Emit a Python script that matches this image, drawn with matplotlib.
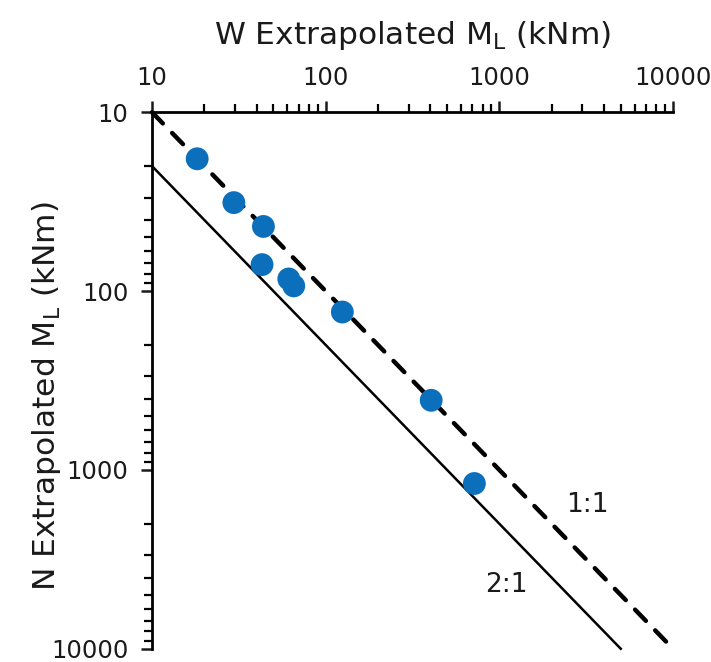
import matplotlib.pyplot as plt
import numpy as np

# moment magnitudes from the two extrapolations (kNm)
w_moment = [18.2, 29.6, 43.8, 43.0, 61.3, 65.5, 124.7, 405, 718]
n_moment = [18.2, 32.0, 43.5, 71.1, 85.5, 93.5, 130.9, 408, 1191]

# reference lines
line_11_x = [10, 10000]
line_11_y = [10, 10000]
line_21_x = [10, 5000]
line_21_y = [20, 10000]

ticks = [10, 100, 1000, 10000]
tick_labels = ["10", "100", "1000", "10000"]


def main():
    fig = plt.figure(figsize=(7.11, 6.62), dpi=100)
    ax = fig.add_axes([0.2138, 0.02, 0.7328, 0.8104])

    ax.plot(line_11_x, line_11_y, color='black', linestyle=(0, (3.5, 3)),
            linewidth=3.2, dash_capstyle='round', zorder=2)
    ax.plot(line_21_x, line_21_y, color='black', linewidth=1.8, zorder=2)
    ax.scatter(w_moment, n_moment, s=270, color='#0B6FBC', edgecolors='none',
               zorder=3)

    ax.set_xscale('log')
    ax.set_yscale('log')
    ax.set_xlim(10, 10000)
    ax.set_ylim(10000, 10)

    ax.spines['right'].set_visible(False)
    ax.spines['bottom'].set_visible(False)
    ax.spines['top'].set_linewidth(2)
    ax.spines['left'].set_linewidth(2)

    ax.xaxis.tick_top()
    ax.xaxis.set_label_position('top')
    ax.set_xticks(ticks)
    ax.set_xticklabels(tick_labels)
    ax.set_yticks(ticks)
    ax.set_yticklabels(tick_labels)
    ax.tick_params(which='major', length=8, width=1.8, labelsize=17.5,
                   colors='#1a1a1a')
    ax.tick_params(which='minor', length=6, width=1.6)
    ax.tick_params(axis='x', which='major', pad=8)
    ax.tick_params(axis='y', which='major', pad=9)

    ax.set_xlabel(r'W Extrapolated $\mathregular{M_L}$ (kNm)', fontsize=22.5,
                  labelpad=16, color='#1a1a1a')
    ax.set_ylabel(r'N Extrapolated $\mathregular{M_L}$ (kNm)', fontsize=22.5,
                  color='#1a1a1a')
    ax.yaxis.set_label_coords(-0.171, 0.47)

    ax.text(3200, 1580, '1:1', fontsize=19, ha='center', va='center',
            color='#1a1a1a')
    ax.text(1096, 4390, '2:1', fontsize=19, ha='center', va='center',
            color='#1a1a1a')

    for s in ('top', 'left'):
        ax.spines[s].set_zorder(4)
    for art in ax.lines + ax.collections:
        art.set_clip_on(False)

    fig.savefig('out.png', dpi=100)


if __name__ == '__main__':
    main()
